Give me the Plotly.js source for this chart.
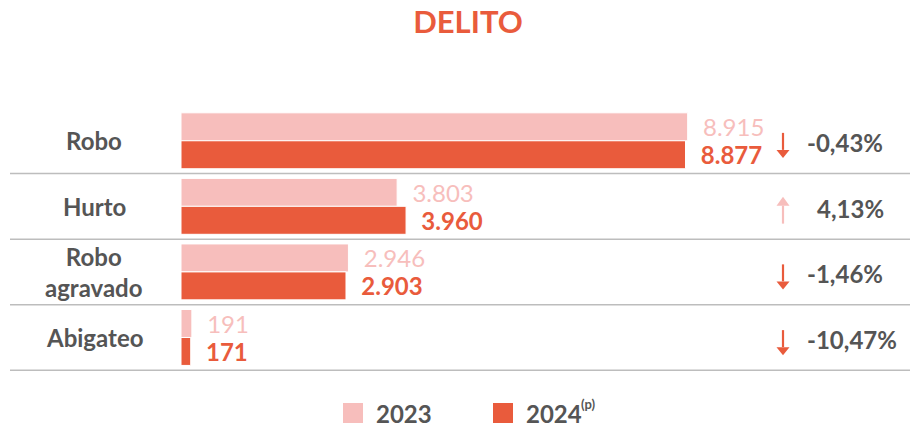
<!DOCTYPE html>
<html>
<head>
<meta charset="utf-8">
<script src="https://cdn.plot.ly/plotly-3.0.1.min.js"></script>
<style>html,body{margin:0;padding:0;background:#fff;}#chart{width:910px;height:427px;}</style>
</head>
<body>
<div id="chart"></div>
<script>
// ---- data ----
const categories = ["Robo", "Hurto", "Robo<br>agravado", "Abigateo"];
const values2023 = [8915, 3803, 2946, 191];
const values2024 = [8877, 3960, 2903, 171];
const seriesNames = ["2023", "2024"];
const seriesNote = "(p)";
const chartTitle = "DELITO";

// ---- styles ----
const C23 = "#f7bebc";
const C24 = "#e95b3c";
const GRAY = "#555555";
const FONT = "Lato, 'Open Sans', sans-serif";
const FS = 24;

const W = 910, H = 427;
const M = {l: 181, r: 47, t: 108, b: 56};
const PW = W - M.l - M.r, PH = H - M.t - M.b;
const px2x = p => (p - M.l) / PW;
const px2y = p => (H - M.b - p) / PH;
const rowC = i => M.t + (i + 0.5) * PH / categories.length;
const nb = "\u00a0\u00a0";

const traces = [
  {type: "bar", orientation: "h", name: seriesNames[0], y: categories, x: values2023,
   marker: {color: C23, line: {color: "#fff", width: 1}},
   texttemplate: nb + "%{x:,}", textposition: "outside", constraintext: "none", cliponaxis: false,
   textfont: {family: FONT, size: FS, color: C23}, hoverinfo: "skip", showlegend: false},
  {type: "bar", orientation: "h", name: seriesNames[1], y: categories, x: values2024,
   marker: {color: C24, line: {color: "#fff", width: 1}},
   texttemplate: nb + "<b>%{x:,}</b>", textposition: "outside", constraintext: "none", cliponaxis: false,
   textfont: {family: FONT, size: FS, color: C24}, hoverinfo: "skip", showlegend: false}
];

const shapes = [];
const annotations = [];
categories.forEach((c, i) => {
  shapes.push({type: "line", xref: "paper", yref: "y", x0: px2x(10), x1: px2x(910), y0: i + 0.5, y1: i + 0.5,
               line: {color: "#bdbdbd", width: 1.5}});
  annotations.push({xref: "paper", yref: "y", x: px2x(94), y: c, text: "<b>" + c + "</b>", showarrow: false,
                    xanchor: "center", yanchor: "middle", align: "center",
                    font: {family: FONT, size: FS, color: GRAY}});
  const pct = (values2024[i] - values2023[i]) / values2023[i] * 100;
  const up = pct >= 0;
  const txt = (up ? "" : "-") + Math.abs(pct).toFixed(2).replace(".", ",") + "%";
  annotations.push({xref: "paper", yref: "y", x: px2x(805), y: c, xshift: up ? 10 : 0, yshift: -2,
                    text: "<b>" + txt + "</b>", showarrow: false, xanchor: "left", yanchor: "middle",
                    font: {family: FONT, size: FS, color: GRAY}});
  // arrow glyph drawn as shapes
  const yc = rowC(i);
  const ax = 783;
  const col = up ? C23 : C24;
  let tail, tip, base;
  if (up) { tip = yc - 10; base = yc - 1; tail = yc + 17; }
  else { tip = yc + 17; base = yc + 9; tail = yc - 8; }
  shapes.push({type: "line", xref: "paper", yref: "paper", x0: px2x(ax), x1: px2x(ax), y0: px2y(tail), y1: px2y(base),
               line: {color: col, width: 2.2}});
  shapes.push({type: "path", xref: "paper", yref: "paper",
               path: `M${px2x(ax - 6.5)},${px2y(base)} L${px2x(ax + 6.5)},${px2y(base)} L${px2x(ax)},${px2y(tip)} Z`,
               fillcolor: col, line: {width: 0}});
});

// manual legend
const legendItems = [{name: seriesNames[0], note: "", color: C23, sx: 343, tx: 374},
                     {name: seriesNames[1], note: seriesNote, color: C24, sx: 493, tx: 524}];
legendItems.forEach(it => {
  shapes.push({type: "rect", xref: "paper", yref: "paper", x0: px2x(it.sx), x1: px2x(it.sx + 20),
               y0: px2y(423), y1: px2y(403), fillcolor: it.color, line: {width: 0}});
  annotations.push({xref: "paper", yref: "paper", x: px2x(it.tx), y: px2y(413), text: "<b>" + it.name + "</b>",
                    showarrow: false, xanchor: "left", yanchor: "middle",
                    font: {family: FONT, size: FS, color: GRAY}});
  if (it.note) {
    annotations.push({xref: "paper", yref: "paper", x: px2x(it.tx + 55), y: px2y(404), text: "<b>" + it.note + "</b>",
                      showarrow: false, xanchor: "left", yanchor: "middle",
                      font: {family: FONT, size: 13, color: GRAY}});
  }
});

const layout = {
  width: W, height: H, margin: M,
  paper_bgcolor: "#fff", plot_bgcolor: "#fff",
  separators: ",.",
  barmode: "group", bargap: 0.147, bargroupgap: 0,
  title: {text: "<b>" + chartTitle + "</b>", xref: "container", yref: "container", x: 468 / W, y: 1 - 22 / H,
          xanchor: "center", yanchor: "middle", font: {family: FONT, size: 31, color: C24}},
  xaxis: {range: [0, 12000], visible: false, fixedrange: true},
  yaxis: {type: "category", autorange: "reversed", showticklabels: false, showgrid: false, zeroline: false,
          showline: false, ticks: "", fixedrange: true},
  showlegend: false,
  shapes: shapes, annotations: annotations
};

Plotly.newPlot("chart", traces, layout, {displayModeBar: false, staticPlot: true});
</script>
</body>
</html>
